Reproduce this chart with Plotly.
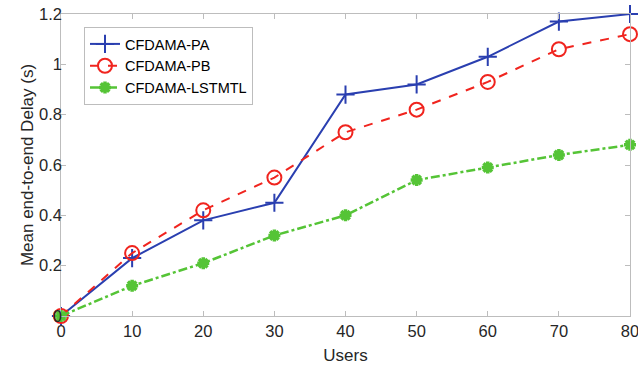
import plotly.graph_objects as go

users = [0, 10, 20, 30, 40, 50, 60, 70, 80]
pa = [0, 0.23, 0.38, 0.45, 0.88, 0.92, 1.03, 1.17, 1.20]
pb = [0, 0.25, 0.42, 0.55, 0.73, 0.82, 0.93, 1.06, 1.12]
lstmtl = [0, 0.12, 0.21, 0.32, 0.40, 0.54, 0.59, 0.64, 0.68]
x_ticks = [0, 10, 20, 30, 40, 50, 60, 70, 80]
y_ticks = [0, 0.2, 0.4, 0.6, 0.8, 1.0, 1.2]
y_labels = ["0", "0.2", "0.4", "0.6", "0.8", "1", "1.2"]

blue = "#2a3fb0"
red = "#f0241e"
green = "#55c436"
font_fam = "Liberation Sans, Arial"
txt = "#262626"

W, H = 638, 366
ML, MR, MT, MB = 40, 8, 14, 50
plot_w = W - ML - MR
axis_px = 61      # pixel of the left axis line
label_px = 62     # pixel where the (free) label axis sits

fig = go.Figure()
fig.add_trace(go.Scatter(x=users, y=pa, name="CFDAMA-PA", mode="lines+markers", cliponaxis=False,
                         line=dict(color=blue, width=2),
                         marker=dict(symbol="cross-thin", size=13, line=dict(color=blue, width=2))))
fig.add_trace(go.Scatter(x=users, y=pb, name="CFDAMA-PB", mode="lines+markers", cliponaxis=False,
                         line=dict(color=red, width=2, dash="dash"),
                         marker=dict(symbol="circle-open", size=14, color=red, line=dict(color=red, width=2))))
fig.add_trace(go.Scatter(x=users, y=lstmtl, name="CFDAMA-LSTMTL", mode="lines+markers", cliponaxis=False,
                         line=dict(color=green, width=2.5, dash="dashdot"),
                         marker=dict(symbol="asterisk-open", size=10, color=green, line=dict(color=green, width=3.5))))

axis_common = dict(showline=True, linecolor="#bdbdbd", linewidth=1, mirror="ticks",
                   ticks="inside", ticklen=5, tickcolor="#bdbdbd", showgrid=False, zeroline=False,
                   automargin=False, ticklabeloverflow="allow",
                   tickfont=dict(family=font_fam, size=16.5, color=txt))

fig.update_layout(
    xaxis=dict(range=[0, 80], tickvals=x_ticks, domain=[(axis_px - ML) / plot_w, 1],
               title=dict(text="Users", font=dict(family=font_fam, size=17, color=txt), standoff=10),
               **axis_common),
    yaxis=dict(range=[0, 1.2], tickvals=y_ticks, showticklabels=False, **axis_common),
    yaxis2=dict(range=[0, 1.2], tickvals=y_ticks, ticktext=y_labels, overlaying="y",
                anchor="free", position=(label_px - ML) / plot_w, side="left",
                showline=False, ticks="", showgrid=False, zeroline=False, automargin=False,
                tickfont=dict(family=font_fam, size=16.5, color=txt),
                title=dict(text="Mean end-to-end Delay (s)", font=dict(family=font_fam, size=17, color=txt), standoff=0)),
)
# invisible helper trace so the label axis is drawn
fig.add_trace(go.Scatter(x=[None], y=[None], yaxis="y2", showlegend=False, hoverinfo="skip"))

fig.update_layout(
    width=W, height=H,
    margin=dict(l=ML, r=MR, t=MT, b=MB),
    plot_bgcolor="white", paper_bgcolor="white",
    legend=dict(x=(84 - ML) / plot_w, y=0.957, xanchor="left", yanchor="top",
                bgcolor="white", bordercolor="#bdbdbd", borderwidth=1,
                font=dict(family=font_fam, size=14.5, color="#000000"),
                itemwidth=30, tracegroupgap=0),
    showlegend=True,
)

fig.write_html("out.html", config={"displayModeBar": False},
               post_script="document.body.style.margin='0';document.body.style.overflow='hidden';")
